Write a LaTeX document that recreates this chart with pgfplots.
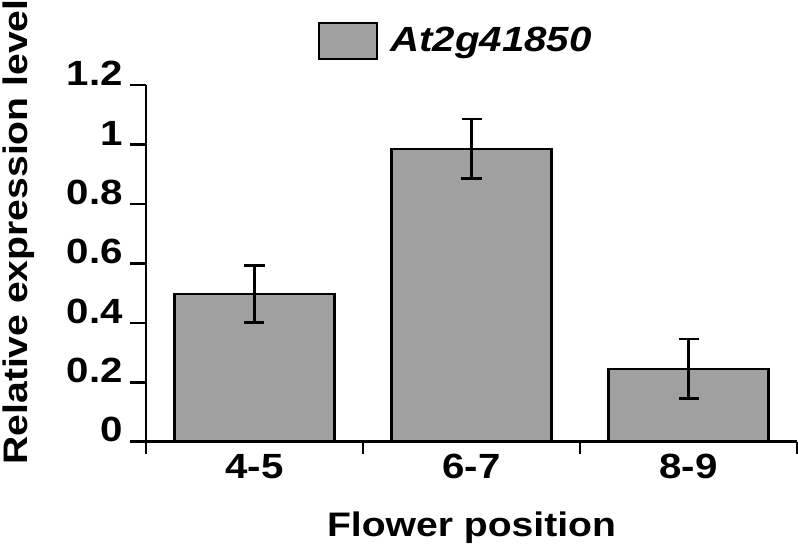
\documentclass[border=0pt]{standalone}
\usepackage{fontspec}
\setmainfont{Liberation Sans}[FakeStretch=1.15]
\usepackage{pgfplots}
\pgfplotsset{compat=1.18}
\definecolor{barfill}{RGB}{160,160,160}

\newcommand{\lblfont}{\bfseries\fontsize{17bp}{20bp}\selectfont}
\newcommand{\tickfont}{\bfseries\fontsize{17.5bp}{21bp}\selectfont}

\begin{document}
\begin{tikzpicture}
\begin{axis}[
    at={(0,0)}, anchor=south west,
    width=325.5bp, height=178.35bp, scale only axis,
    ybar, bar width=0.74,
    xmin=-0.5, xmax=2.5, ymin=0, ymax=1.2,
    axis lines=left,
    axis line style={-, black, line width=1.3bp},
    xtick={0,1,2}, xticklabels={4-5,6-7,8-9},
    minor xtick={-0.5,0.5,1.5,2.5},
    ytick={0,0.2,0.4,0.6,0.8,1,1.2},
    tick align=outside,
    major tick length=8bp, minor tick length=6bp,
    major x tick style={draw=none},
    tick style={black, line width=1.3bp},
    /pgf/number format/assume math mode=true,
    ticklabel style={font=\tickfont, inner sep=0pt},
    xticklabel style={anchor=north, yshift=2bp},
    yticklabel style={anchor=south east, xshift=-3.5bp, yshift=-0.5bp},
    xlabel={Flower position},
    xlabel style={font=\lblfont, at={(axis description cs:0.5,-0.267)}, anchor=base},
    ylabel={Relative expression level},
    ylabel style={font=\lblfont, at={(axis description cs:-0.195,0.588)}, anchor=center},
    legend style={at={(axis description cs:0.263,1.123)}, anchor=west,
        draw=none, fill=none, inner sep=0pt, font=\tickfont,
        nodes={inner sep=0pt}},
]

\addplot[fill=barfill, draw=black, line width=1.3bp,
    legend image code/.code={\draw[fill=barfill, draw=black, line width=1.3bp] (0bp,-9bp) rectangle (29bp,9bp);},
    error bars/.cd, y dir=both, y explicit,
    error bar style={line width=1.3bp, black},
    error mark options={rotate=90, mark size=5bp, line width=1.3bp, black}]
    coordinates {(0,0.497) +- (0,0.095) (1,0.985) +- (0,0.100) (2,0.245) +- (0,0.100)};
\addlegendentry{\hspace{6bp}\textit{At2g41850}}

\end{axis}
\pgfresetboundingbox
\path (current axis.south west) ++(-73bp,-56.15bp) rectangle ++(399bp,277bp);
\end{tikzpicture}
\end{document}
